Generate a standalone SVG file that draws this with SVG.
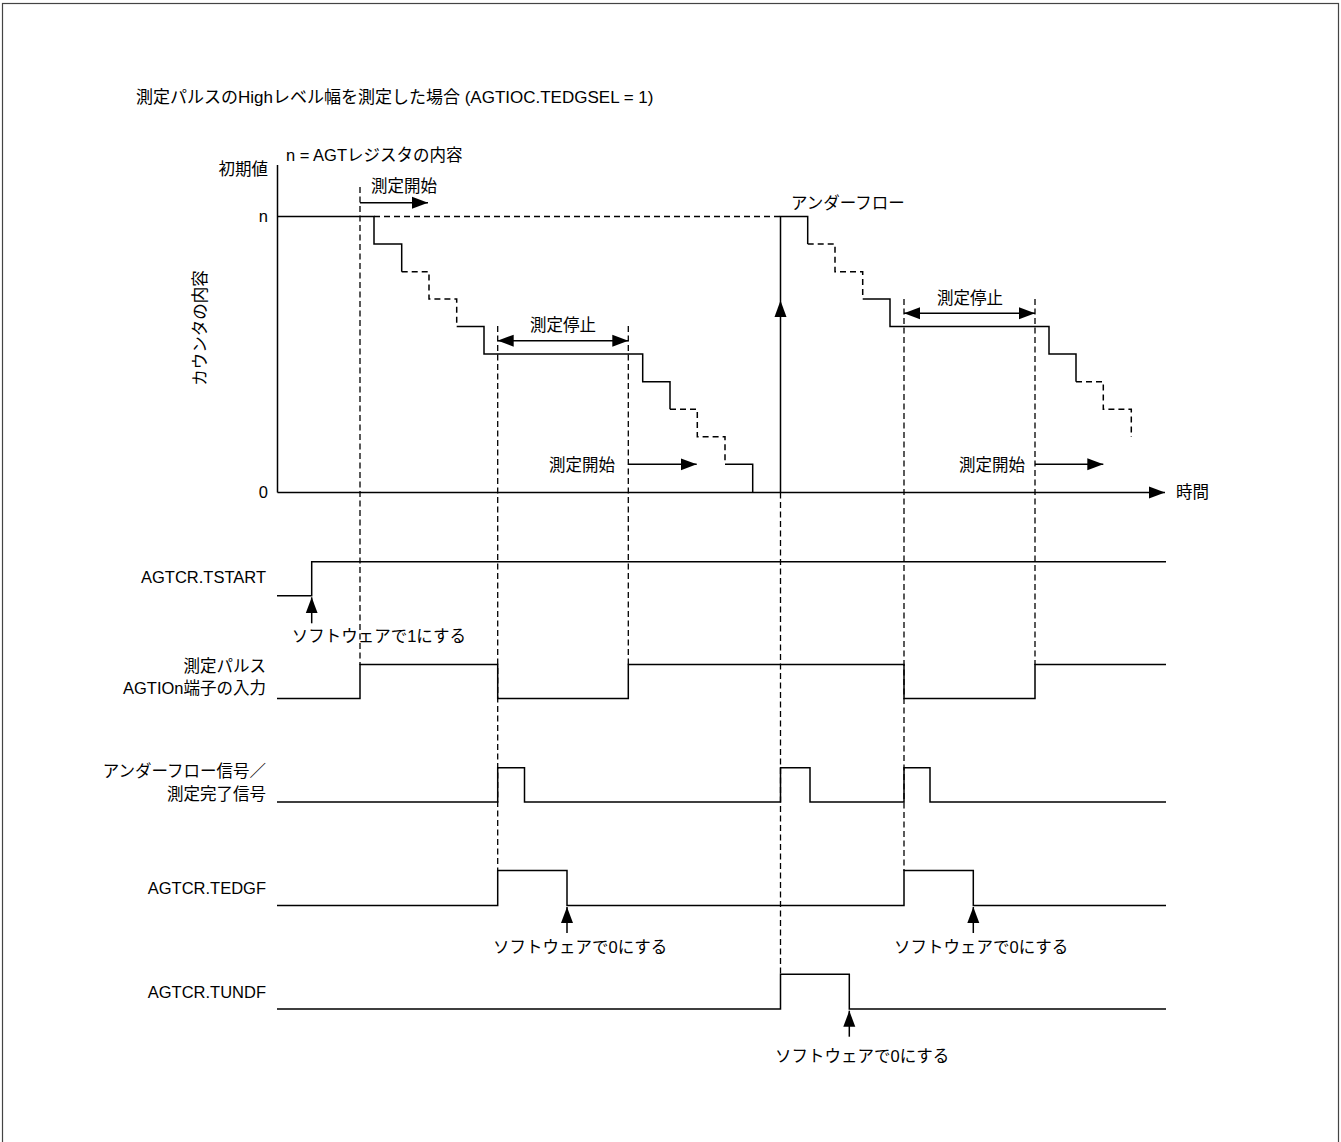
<svg xmlns="http://www.w3.org/2000/svg" width="1341" height="1142" viewBox="0 0 1341 1142">
<style>
text{font-family:"Liberation Sans","Noto Sans CJK JP",Arial,sans-serif;font-size:16.5px;fill:#000}
.end{text-anchor:end}
.mid{text-anchor:middle}
.t{font-size:17px}
.s{fill:none;stroke:#000;stroke-width:1.5}
.d{fill:none;stroke:#000;stroke-width:1.5;stroke-dasharray:6 4}
.g{fill:none;stroke:#000;stroke-width:1.3;stroke-dasharray:6 3.5}
.a{fill:none;stroke:#000;stroke-width:1.5;marker-end:url(#ah)}
.aa{fill:none;stroke:#000;stroke-width:1.5;marker-end:url(#ah);marker-start:url(#ahs)}
</style>
<defs>
<marker id="ah" markerUnits="userSpaceOnUse" markerWidth="17" markerHeight="13" refX="16" refY="6.5" orient="auto"><path d="M0,0.5 L16,6.5 L0,12.5 z" fill="#000"/></marker>
<marker id="ahs" markerUnits="userSpaceOnUse" markerWidth="17" markerHeight="13" refX="0" refY="6.5" orient="auto"><path d="M16,0.5 L0,6.5 L16,12.5 z" fill="#000"/></marker>
</defs>
<rect x="0" y="0" width="1341" height="1142" fill="#fff"/>
<rect x="2.5" y="3.5" width="1336" height="1160" fill="none" stroke="#444" stroke-width="1.2"/>

<g id="title"><text class="t" x="136" y="103">測定パルスのHighレベル幅を測定した場合 (AGTIOC.TEDGSEL = 1)</text></g>

<g id="counter-chart">
<text x="286" y="161">n = AGTレジスタの内容</text>
<text class="end" x="268" y="175">初期値</text>
<text class="end" x="268" y="222">n</text>
<text class="end" x="268" y="498">0</text>
<text class="mid" transform="translate(206,328) rotate(-90)">カウンタの内容</text>
<text x="1176" y="498">時間</text>
<path class="s" d="M277.5 165 V492.5"/>
<path class="a" d="M277.5 492.5 H1165"/>
<path class="s" d="M277.5 216.5 H374 V244 H401.7 V271.7"/>
<path class="d" d="M401.7 271.7 H429 V299 H456.7 V326.5"/>
<path class="s" d="M456.7 326.5 H484 V354 H642.7 V381.7 H670 V409.3"/>
<path class="d" d="M670 409.3 H697.3 V436.7 H725 V464.3"/>
<path class="s" d="M725 464.3 H752.7 V492.5"/>
<path class="d" d="M374 216.5 H780.5"/>
<path class="s" d="M780.5 492.5 V216.5 H807.7 V244"/>
<path class="d" d="M807.7 244 H835 V271.7 H862.7 V299"/>
<path class="s" d="M862.7 299 H890 V326.5 H1049 V354 H1076 V381.7"/>
<path class="d" d="M1076 381.7 H1103.3 V409.3 H1131.3 V437"/>
<path d="M780.5 300.5 L774.5 317 L786.5 317 z" fill="#000"/>
<text x="791" y="209">アンダーフロー</text>
<text x="371" y="192">測定開始</text>
<text class="mid" x="563" y="331">測定停止</text>
<text class="end" x="615" y="471">測定開始</text>
<text class="mid" x="970" y="304">測定停止</text>
<text class="end" x="1025" y="471">測定開始</text>
</g>

<g id="connectors">
<path class="g" d="M360 187 V665"/>
<path class="g" d="M497.7 326 V870"/>
<path class="g" d="M628.3 326 V665"/>
<path class="g" d="M780.5 492.5 V974"/>
<path class="g" d="M904 299 V871"/>
<path class="g" d="M1035 299 V665"/>
<path class="a" d="M360 202.7 H428"/>
<path class="aa" d="M497.7 340.7 H628.3"/>
<path class="a" d="M628.3 464.3 H696.7"/>
<path class="aa" d="M904 313.3 H1035"/>
<path class="a" d="M1035 464.3 H1103.3"/>
<path class="a" d="M311.7 623.3 V597.3"/>
<path class="a" d="M567 933 V907"/>
<path class="a" d="M973.3 933 V907"/>
<path class="a" d="M849.3 1036.7 V1010.7"/>
</g>

<g id="tstart">
<text class="end" x="266" y="583">AGTCR.TSTART</text>
<path class="s" d="M277 595.7 H311.7 V561.7 H1166"/>
<text x="291.7" y="642">ソフトウェアで1にする</text>
</g>

<g id="pulse">
<text class="end" x="266" y="672">測定パルス</text>
<text class="end" x="266" y="694">AGTIOn端子の入力</text>
<path class="s" d="M277 698.5 H360 V664.5 H497.7 V698.5 H628.3 V664.5 H904 V698.5 H1035 V664.5 H1166"/>
</g>

<g id="underflow">
<text class="end" x="266" y="777">アンダーフロー信号／</text>
<text class="end" x="266" y="800">測定完了信号</text>
<path class="s" d="M277 802 H497.7 V767.7 H524.5 V802 H780.5 V767.7 H810 V802 H904 V767.7 H930 V802 H1166"/>
</g>

<g id="tedgf">
<text class="end" x="266" y="894">AGTCR.TEDGF</text>
<path class="s" d="M277 905.5 H497.7 V870.5 H567 V905.5 H904 V870.5 H973.3 V905.5 H1166"/>
<text x="493" y="953">ソフトウェアで0にする</text>
<text x="894" y="953">ソフトウェアで0にする</text>
</g>

<g id="tundf">
<text class="end" x="266" y="998">AGTCR.TUNDF</text>
<path class="s" d="M277 1009 H780.5 V974.3 H849.3 V1009 H1166"/>
<text x="775" y="1062">ソフトウェアで0にする</text>
</g>
</svg>
